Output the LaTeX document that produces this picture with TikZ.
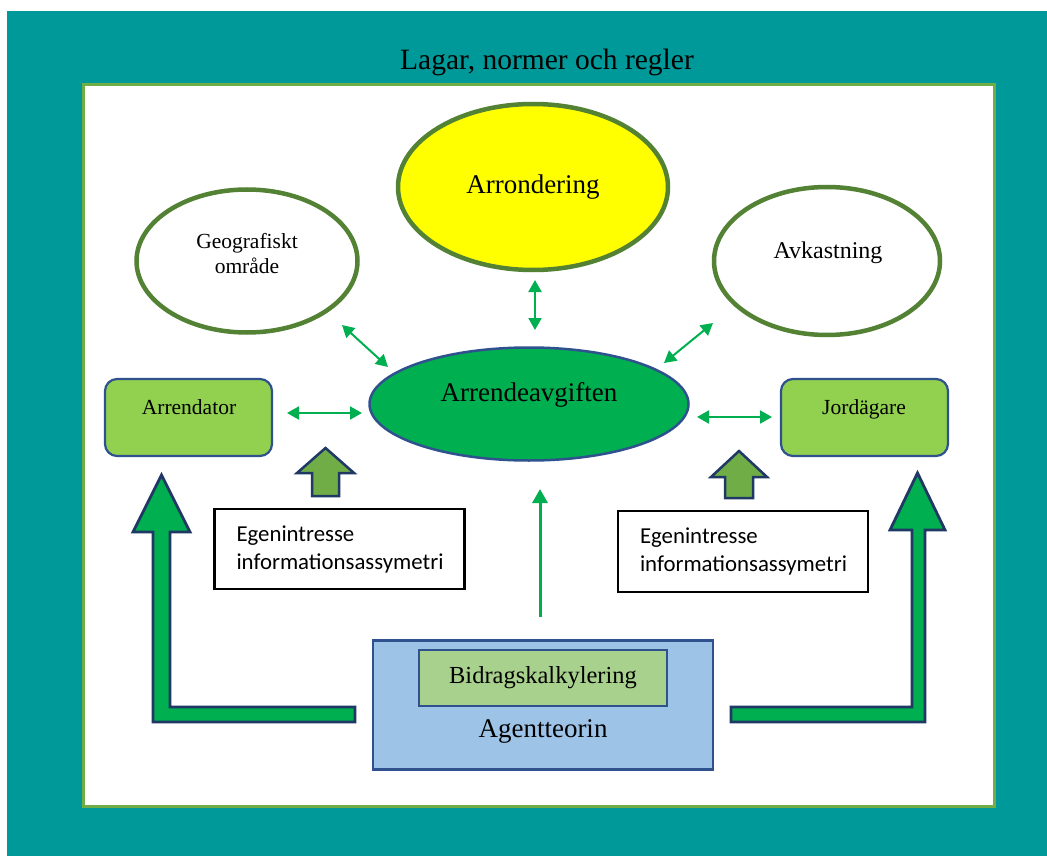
\documentclass[tikz,border=0pt]{standalone}
\usepackage{fontspec}
\setmainfont{Liberation Serif}
\newfontfamily\calib{Carlito}
\usetikzlibrary{shapes.geometric,arrows.meta}
\definecolor{tealbg}{HTML}{009999}
\definecolor{framegreen}{HTML}{70AD47}
\definecolor{olivebd}{HTML}{548235}
\definecolor{bluebd}{HTML}{2F528F}
\definecolor{navybd}{HTML}{1F3864}
\definecolor{brightgreen}{HTML}{00B050}
\definecolor{lightgreen}{HTML}{92D050}
\definecolor{midgreen}{HTML}{70AD47}
\definecolor{skyblue}{HTML}{9DC3E6}
\definecolor{palegreen}{HTML}{A9D18E}
\definecolor{yellowfill}{HTML}{FFFF00}
\tikzset{
  ringell/.style={ellipse, draw=olivebd, line width=4.5pt, fill=white, inner sep=0pt},
  txt/.style={inner sep=0pt, text height=0.68em, text depth=0.2em},
  roundbox/.style={rectangle, rounded corners=12pt, draw=bluebd, line width=2.2pt, fill=lightgreen, minimum width=167pt, minimum height=77pt},
  textbox/.style={rectangle, draw=black, line width=2.2pt, fill=white, minimum width=247pt, minimum height=80pt, text width=206pt, align=left, inner xsep=22pt, font=\calib\fontsize{22.8}{28}\selectfont},
  dblarrow/.style={{Triangle[length=12pt,width=13pt]}-{Triangle[length=12pt,width=13pt]}, draw=brightgreen, line width=2pt},
  uparrow/.style={-{Triangle[length=14pt,width=15pt]}, draw=brightgreen, line width=3pt},
  blockarrow/.style={fill=midgreen, draw=navybd, line width=2.5pt, line join=miter},
  bigarrow/.style={fill=brightgreen, draw=navybd, line width=2.8pt, line join=miter},
}
\begin{document}
\begin{tikzpicture}[x=1pt,y=-1pt]
\useasboundingbox (0,0) rectangle (1047,856);
\fill[white] (0,0) rectangle (1047,856);
\fill[tealbg] (7,11) rectangle (1047,856);
\draw[draw=framegreen, line width=3pt, fill=white] (83,85) rectangle (994,806);

\node[txt, font=\fontsize{29.5}{32}\selectfont] (title) at (547,67) {Lagar, normer och regler};

% ellipses
\node[ringell, fill=yellowfill, minimum width=270pt, minimum height=166pt] (arrond) at (533,187) {};
\node[txt, font=\fontsize{27}{30}\selectfont] (arrondtxt) at (533,191) {Arrondering};

\node[ringell, minimum width=221pt, minimum height=143pt] (geo) at (247,261) {};
\node[inner sep=0pt, align=center, font=\fontsize{21.5}{25}\selectfont] (geotxt) at (247,254) {Geografiskt\\område};

\node[ringell, minimum width=226pt, minimum height=148pt] (avk) at (827,261) {};
\node[txt, font=\fontsize{24}{28}\selectfont] (avktxt) at (828,256) {Avkastning};

\node[ellipse, draw=bluebd, line width=2.5pt, fill=brightgreen, minimum width=319pt, minimum height=113pt, inner sep=0pt] (avg) at (529,404) {};
\node[txt, font=\fontsize{27}{30}\selectfont] (avgtxt) at (529,399) {Arrendeavgiften};

% side boxes
\node[roundbox] (arrendator) at (188.5,417.5) {};
\node[txt, font=\fontsize{21.5}{25}\selectfont] (arrendatortxt) at (189,412) {Arrendator};
\node[roundbox] (jord) at (864.5,417.5) {};
\node[txt, font=\fontsize{21.5}{25}\selectfont] (jordtxt) at (864,412) {Jordägare};

% text boxes
\node[textbox] (egenL) at (339.5,549) {Egenintresse\\informationsassymetri};
\node[textbox, minimum width=250pt, minimum height=81pt] (egenR) at (743,551.5) {Egenintresse\\informationsassymetri};

% agent box
\node[rectangle, draw=bluebd, line width=2.2pt, fill=skyblue, minimum width=340pt, minimum height=129pt] (agent) at (543,705) {};
\node[rectangle, draw=bluebd, line width=2.5pt, fill=palegreen, minimum width=248pt, minimum height=56pt] (bidrag) at (543,678) {};
\node[txt, font=\fontsize{24.5}{28}\selectfont] (bidragtxt) at (543,681) {Bidragskalkylering};
\node[txt, font=\fontsize{27}{30}\selectfont] (agenttxt) at (543,735) {Agentteorin};

% double arrows
\coordinate (hl1) at (287,413); \coordinate (hl2) at (362,413);
\draw[dblarrow] (hl1) -- (hl2);
\coordinate (hr1) at (697,417); \coordinate (hr2) at (772,417);
\draw[dblarrow] (hr1) -- (hr2);
\coordinate (v1) at (535,280); \coordinate (v2) at (535,330);
\draw[dblarrow] (v1) -- (v2);
\coordinate (dl1) at (342,325); \coordinate (dl2) at (388,367);
\draw[dblarrow] (dl1) -- (dl2);
\coordinate (dr1) at (713,323); \coordinate (dr2) at (664,363);
\draw[dblarrow] (dr1) -- (dr2);

% centre up arrow
\coordinate (c1) at (540,617); \coordinate (c2) at (540,489);
\draw[uparrow] (c1) -- (c2);

% small block arrows
\draw[blockarrow] (312,496) -- (312,473) -- (297,473) -- (325.5,448) -- (354,473) -- (339,473) -- (339,496) -- cycle;
\draw[blockarrow] (725,498) -- (725,477) -- (711,477) -- (739,451) -- (767,477) -- (753,477) -- (753,498) -- cycle;

% big L arrows
\draw[bigarrow] (355,707) -- (170,707) -- (170,532) -- (190,532) -- (161.5,475) -- (133,532) -- (153,532) -- (153,722) -- (355,722) -- cycle;
\draw[bigarrow] (731,707) -- (912,707) -- (912,530) -- (890,530) -- (917.5,473) -- (945,530) -- (925,530) -- (925,722) -- (731,722) -- cycle;
\end{tikzpicture}
\end{document}
